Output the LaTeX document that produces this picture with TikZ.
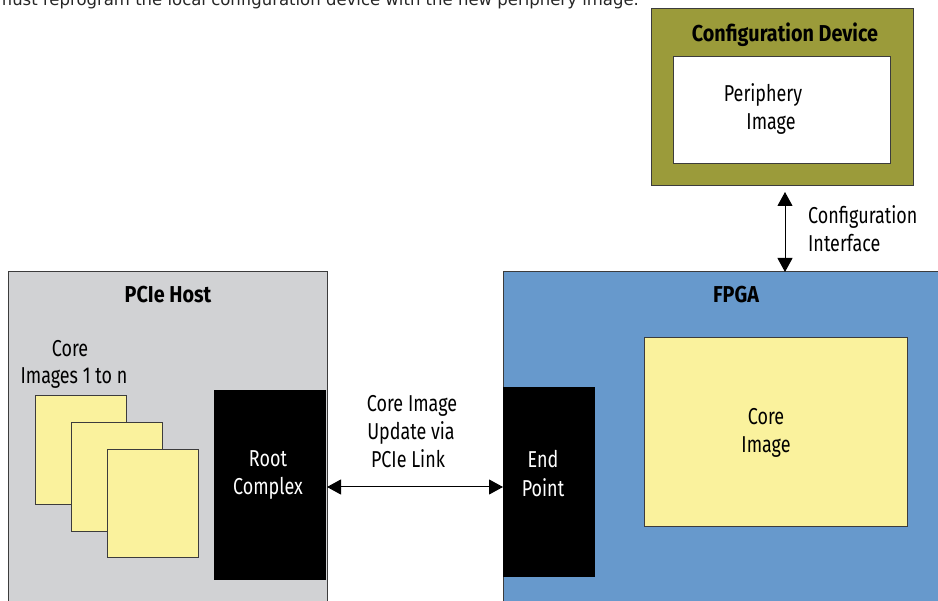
\documentclass[tikz,border=0pt]{standalone}
\usepackage{fontspec}
\setmainfont{Fira Sans}[FakeStretch=0.78, BoldFeatures={FakeStretch=0.86}]
\newfontfamily\capfont{DejaVu Sans}
\usetikzlibrary{arrows.meta}
\definecolor{olive}{RGB}{155,155,58}
\definecolor{hostgray}{RGB}{209,210,212}
\definecolor{fpgablue}{RGB}{103,153,204}
\definecolor{imgyellow}{RGB}{250,242,157}
\definecolor{edge}{RGB}{60,60,60}
\tikzset{
  box/.style={draw=edge, line width=1pt},
  lbl/.style={font=\fontsize{23}{28}\selectfont, align=center, inner sep=0pt},
  title/.style={font=\fontsize{23}{28}\selectfont\bfseries, inner sep=0pt},
  arr/.style={line width=1pt, {Triangle[length=14pt,width=15pt]}-{Triangle[length=14pt,width=15pt]}},
}
\begin{document}
\begin{tikzpicture}[x=1pt,y=-1pt]
\useasboundingbox (0,0) rectangle (938,601);
\clip (0,0) rectangle (938,601);
% cut-off caption text at top
\node[anchor=base west, font=\capfont\fontsize{16.5}{20}\selectfont, inner sep=0pt, text=black!85] (cap) at (-4,6) {must reprogram the local configuration device with the new periphery image.};
% Configuration device
\draw[box, fill=olive] (651,9) rectangle (913,186);
\coordinate (cfgbot) at (785,186);
\node[title, anchor=base] (cfgt) at (785,42) {Configuration Device};
\draw[box, fill=white] (673,57) rectangle (890,164);
\node[lbl, anchor=base] (per1) at (763,102) {Periphery};
\node[lbl, anchor=base] (per2) at (771,130) {Image};
% PCIe host
\draw[box, fill=hostgray] (8,272) rectangle (327,610);
\node[title, anchor=base] (host) at (168,303) {PCIe Host};
\node[lbl, anchor=base] (ci1) at (70,357) {Core};
\node[lbl, anchor=base] (ci2) at (74,384) {Images 1 to n};
\draw[box, fill=imgyellow] (35,396) rectangle (126,505);
\draw[box, fill=imgyellow] (71,423) rectangle (162,532);
\draw[box, fill=imgyellow] (107,450) rectangle (198,558);
\node[fill=black, minimum width=112pt, minimum height=190pt, inner sep=0pt, anchor=north west] (rc) at (214,390) {};
\node[lbl, text=white, anchor=base] (rc1) at (268,467) {Root};
\node[lbl, text=white, anchor=base] (rc2) at (268,495) {Complex};
% FPGA
\draw[box, fill=fpgablue] (503,272) rectangle (945,610);
\coordinate (fpgatop) at (785,272);
\node[title, anchor=base] (fpga) at (736,303) {FPGA};
\draw[box, fill=imgyellow] (644,338) rectangle (907,527);
\node[lbl, anchor=base] (core1) at (766,425) {Core};
\node[lbl, anchor=base] (core2) at (766,453) {Image};
\node[fill=black, minimum width=92pt, minimum height=190pt, inner sep=0pt, anchor=north west] (ep) at (503,387) {};
\node[lbl, text=white, anchor=base] (ep1) at (543,468) {End};
\node[lbl, text=white, anchor=base] (ep2) at (543,497) {Point};
% connectors
\coordinate (rcR) at (327,487);
\coordinate (epL) at (503,487);
\draw[arr] (rcR) -- (epL);
\node[lbl, anchor=base] (lk1) at (412,412) {Core Image};
\node[lbl, anchor=base] (lk2) at (411,440) {Update via};
\node[lbl, anchor=base] (lk3) at (408,468) {PCIe Link};
\draw[arr] (cfgbot) ++(0,6) coordinate (a1) -- (fpgatop);
\node[lbl, anchor=base west, align=left] (cf1) at (808,224) {Configuration};
\node[lbl, anchor=base west, align=left] (cf2) at (808,252) {Interface};
\end{tikzpicture}
\end{document}
